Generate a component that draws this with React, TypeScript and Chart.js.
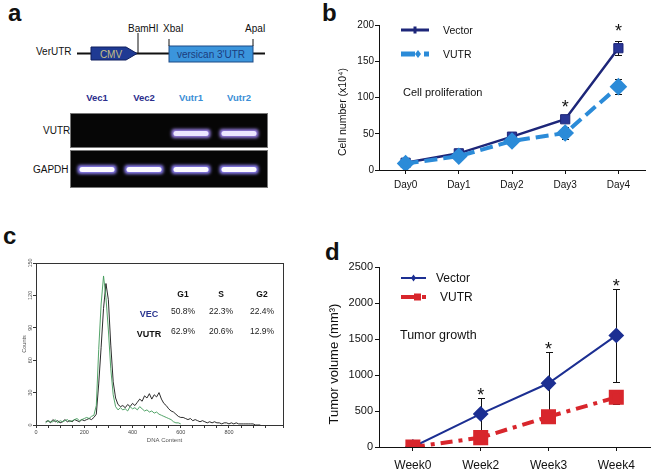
import React, { useEffect, useRef } from "react";
import { Chart, registerables } from "chart.js";

Chart.register(...registerables);

const FONT = '"Liberation Sans", Arial, Helvetica, sans-serif';

// ---------- Panel a (construct + RT-PCR gel) ----------
const laneLabels = ["Vec1", "Vec2", "Vutr1", "Vutr2"];
const vutrBandPresent = [false, false, true, true];
const gapdhBandPresent = [true, true, true, true];

// ---------- Panel b (cell proliferation) ----------
const dayLabels = ["Day0", "Day1", "Day2", "Day3", "Day4"];
const prolifVector = [10, 23, 46, 70, 168];
const prolifVectorErr = [3, 4, 4, 3, 10];
const prolifVUTR = [9, 19, 40, 51, 115];
const prolifVUTRErr = [3, 3, 3, 8, 10];
const prolifSignificant = [false, false, false, true, true];

// ---------- Panel c (cell cycle histogram) ----------
const dnaBinStart = 40;
const dnaBinWidth = 10;
const countsBlackTrace = [
  3, 4, 2, 5, 3, 4, 2, 3, 5, 3, 4, 3, 5, 4, 3, 5, 4,
  5, 6, 5, 7,
  10, 38, 72, 108, 131, 116, 74, 40, 25, 19, 17,
  18, 16, 19, 17, 20, 18, 21,
  24, 22, 27, 25, 29, 24, 28, 26, 30, 24,
  20, 18, 15, 13, 12, 10, 8, 7, 7, 6, 5, 6, 4, 5, 4, 3, 4, 3, 2, 3,
  2, 3, 2, 2, 1, 2, 2, 1, 2, 1, 2, 1, 1, 1, 1, 1, 1, 1, 0, 0, 0,
];
const countsGreenTrace = [
  2, 4, 3, 3, 5, 2, 4, 3, 4, 5, 3, 4, 5, 6, 4, 5, 6,
  7, 6, 8, 9,
  18, 70, 112, 138, 118, 88, 52, 28, 17, 14,
  16, 14, 15, 13, 17, 15, 16, 14, 17,
  15, 13, 14, 12, 13, 11, 12,
  10, 9, 8, 7, 6, 5, 3, 2, 2, 1,
];
const countTicks = [0, 30, 60, 90, 120, 150];
const phaseHeaders = ["G1", "S", "G2"];
const phaseVEC = ["50.8%", "22.3%", "22.4%"];
const phaseVUTR = ["62.9%", "20.6%", "12.9%"];

// ---------- Panel d (tumor growth) ----------
const weekLabels = ["Week0", "Week2", "Week3", "Week4"];
const tumorVector = [0, 460, 885, 1550];
const tumorVectorErr = [0, 225, 440, 650];
const tumorVUTR = [0, 130, 420, 690];
const tumorVUTRErr = [0, 0, 0, 90];
const tumorSignificant = [false, true, true, true];

const NAVY = "#1d2679";
const NAVY_MARK = "#2a3796";
const LBLUE = "#2b8bd8";
const DNAVY = "#1c2f92";
const RED = "#d8262c";

function errorBars(specs: { ds: number; err: number[]; up: boolean; down: boolean }[], cap: number) {
  return {
    id: "errorBars",
    beforeDatasetsDraw(chart: any) {
      const ctx = chart.ctx;
      const ys = chart.scales.y;
      ctx.save();
      ctx.strokeStyle = "#111";
      ctx.lineWidth = 1;
      for (const s of specs) {
        const meta = chart.getDatasetMeta(s.ds);
        const vals = chart.data.datasets[s.ds].data as number[];
        meta.data.forEach((el: any, j: number) => {
          const e = s.err[j];
          if (!e) return;
          const x = Math.round(el.x) + 0.5;
          const yc = ys.getPixelForValue(vals[j]);
          ctx.beginPath();
          if (s.up) {
            const yt = Math.round(ys.getPixelForValue(vals[j] + e)) + 0.5;
            ctx.moveTo(x, yc);
            ctx.lineTo(x, yt);
            ctx.moveTo(x - cap, yt);
            ctx.lineTo(x + cap, yt);
          }
          if (s.down) {
            const yb = Math.round(ys.getPixelForValue(vals[j] - e)) + 0.5;
            ctx.moveTo(x, yc);
            ctx.lineTo(x, yb);
            ctx.moveTo(x - cap, yb);
            ctx.lineTo(x + cap, yb);
          }
          ctx.stroke();
        });
      }
      ctx.restore();
    },
  };
}

function stars(ds: number, errs: number[], flags: boolean[], gap: number, size: number) {
  return {
    id: "stars",
    afterDatasetsDraw(chart: any) {
      const ctx = chart.ctx;
      const ys = chart.scales.y;
      const meta = chart.getDatasetMeta(ds);
      const vals = chart.data.datasets[ds].data as number[];
      ctx.save();
      ctx.fillStyle = "#111";
      ctx.font = `${size}px ${FONT}`;
      ctx.textAlign = "center";
      ctx.textBaseline = "alphabetic";
      flags.forEach((f, j) => {
        if (!f) return;
        const x = meta.data[j].x;
        const cy = ys.getPixelForValue(vals[j] + errs[j]) - gap;
        ctx.fillText("*", x, cy + size * 0.57);
      });
      ctx.restore();
    },
  };
}

function yTitle(text: string, x: number, cy: number, size: number) {
  return {
    id: "yTitle",
    afterDraw(chart: any) {
      const ctx = chart.ctx;
      ctx.save();
      ctx.translate(x, cy);
      ctx.rotate(-Math.PI / 2);
      ctx.fillStyle = "#111";
      ctx.font = `${size}px ${FONT}`;
      ctx.textAlign = "center";
      ctx.textBaseline = "middle";
      ctx.fillText(text, 0, 0);
      ctx.restore();
    },
  };
}

function axisStyle(fontSize: number, pad: number) {
  return {
    grid: { display: true, drawOnChartArea: false, drawTicks: true, tickLength: 4, color: "#111", offset: false },
    border: { display: true, color: "#111", width: 1 },
    ticks: {
      color: "#111",
      font: { size: fontSize, family: FONT },
      padding: pad,
      maxRotation: 0,
      autoSkip: false,
    },
  };
}

const plainNumber = (v: any) => String(v);

function cellConfig(): any {
  const xs = axisStyle(10, 5);
  const ysty = axisStyle(10, 1);
  return {
    type: "line",
    data: {
      labels: dayLabels,
      datasets: [
        {
          label: "Vector",
          data: prolifVector,
          borderColor: NAVY,
          borderWidth: 2.5,
          pointStyle: "rect",
          pointRadius: 6.5,
          pointBackgroundColor: NAVY_MARK,
          pointBorderColor: NAVY,
          pointBorderWidth: 1,
          order: 2,
        },
        {
          label: "VUTR",
          data: prolifVUTR,
          borderColor: LBLUE,
          borderWidth: 4,
          borderDash: [13, 6],
          pointStyle: "rectRot",
          pointRadius: 6,
          pointBackgroundColor: LBLUE,
          pointBorderColor: LBLUE,
          order: 1,
        },
      ],
    },
    options: {
      responsive: false,
      animation: false,
      events: [],
      layout: { padding: { left: 336, top: 25, right: 17, bottom: 262 } },
      plugins: { legend: { display: false }, tooltip: { enabled: false } },
      scales: {
        x: { ...xs, offset: true, afterFit: (s: any) => { s.height = 40; } },
        y: {
          ...ysty,
          min: 0,
          max: 200,
          ticks: { ...ysty.ticks, stepSize: 50, callback: plainNumber },
          afterFit: (s: any) => { s.width = 43; },
        },
      },
    },
    plugins: [
      errorBars(
        [
          { ds: 0, err: prolifVectorErr, up: true, down: true },
          { ds: 1, err: prolifVUTRErr, up: true, down: true },
        ],
        3.5
      ),
      stars(0, prolifVectorErr, prolifSignificant, 14.5, 18),
      yTitle("Cell number (x10⁴)", 343, 112, 10.5),
      {
        id: "cellDecor",
        afterDraw(chart: any) {
          const ctx = chart.ctx;
          const { left, top } = chart.chartArea;
          ctx.save();
          const x0 = left + 22, x1 = left + 50;
          const y1 = top + 5;
          ctx.strokeStyle = NAVY;
          ctx.lineWidth = 3;
          ctx.beginPath();
          ctx.moveTo(x0, y1);
          ctx.lineTo(x1, y1);
          ctx.stroke();
          ctx.fillStyle = NAVY;
          ctx.fillRect((x0 + x1) / 2 - 1.5, y1 - 3.5, 3, 7);
          const y2 = top + 29;
          ctx.strokeStyle = LBLUE;
          ctx.lineWidth = 5;
          ctx.beginPath();
          ctx.moveTo(x0, y2);
          ctx.lineTo(x0 + 14, y2);
          ctx.moveTo(x1 - 5, y2);
          ctx.lineTo(x1, y2);
          ctx.stroke();
          ctx.fillStyle = LBLUE;
          ctx.beginPath();
          ctx.moveTo(x0 + 17, y2 - 4);
          ctx.lineTo(x0 + 20, y2);
          ctx.lineTo(x0 + 17, y2 + 4);
          ctx.lineTo(x0 + 14, y2);
          ctx.closePath();
          ctx.fill();
          ctx.fillStyle = "#111";
          ctx.font = `10.5px ${FONT}`;
          ctx.textAlign = "left";
          ctx.textBaseline = "middle";
          ctx.fillText("Vector", left + 64, y1 + 1);
          ctx.fillText("VUTR", left + 64, y2 + 1);
          ctx.font = `11px ${FONT}`;
          ctx.fillText("Cell proliferation", left + 24, top + 68);
          ctx.restore();
        },
      },
    ],
  };
}

function tumorConfig(): any {
  const xs = axisStyle(12, 7);
  const ysty = axisStyle(11, 2);
  return {
    type: "line",
    data: {
      labels: weekLabels,
      datasets: [
        {
          label: "Vector",
          data: tumorVector,
          borderColor: DNAVY,
          borderWidth: 2,
          pointStyle: "rectRot",
          pointRadius: 6.5,
          pointBackgroundColor: DNAVY,
          pointBorderColor: DNAVY,
          order: 2,
        },
        {
          label: "VUTR",
          data: tumorVUTR,
          borderColor: RED,
          borderWidth: 4,
          borderDash: [12, 6, 4, 6],
          pointStyle: "rect",
          pointRadius: 7.8,
          pointBackgroundColor: RED,
          pointBorderColor: RED,
          order: 1,
        },
      ],
    },
    options: {
      responsive: false,
      animation: false,
      events: [],
      layout: { padding: { left: 325, top: 267, right: 4, bottom: 0 } },
      plugins: { legend: { display: false }, tooltip: { enabled: false } },
      scales: {
        x: { ...xs, offset: true, afterFit: (s: any) => { s.height = 25; } },
        y: {
          ...ysty,
          min: 0,
          max: 2500,
          ticks: { ...ysty.ticks, stepSize: 500, callback: plainNumber },
          afterFit: (s: any) => { s.width = 54; },
        },
      },
    },
    plugins: [
      errorBars(
        [
          { ds: 0, err: tumorVectorErr, up: true, down: true },
          { ds: 1, err: tumorVUTRErr, up: false, down: true },
        ],
        3.5
      ),
      stars(0, tumorVectorErr, tumorSignificant, 7, 18),
      yTitle("Tumor volume (mm³)", 334, 364, 13),
      {
        id: "tumorDecor",
        afterDraw(chart: any) {
          const ctx = chart.ctx;
          const { left, top } = chart.chartArea;
          ctx.save();
          const x0 = left + 22, x1 = left + 47;
          const y1 = top + 11;
          ctx.strokeStyle = DNAVY;
          ctx.lineWidth = 2;
          ctx.beginPath();
          ctx.moveTo(x0, y1);
          ctx.lineTo(x1, y1);
          ctx.stroke();
          ctx.fillStyle = DNAVY;
          const mx = (x0 + x1) / 2;
          ctx.beginPath();
          ctx.moveTo(mx, y1 - 3.5);
          ctx.lineTo(mx + 2.5, y1);
          ctx.lineTo(mx, y1 + 3.5);
          ctx.lineTo(mx - 2.5, y1);
          ctx.closePath();
          ctx.fill();
          const y2 = top + 30;
          ctx.strokeStyle = RED;
          ctx.lineWidth = 4;
          ctx.beginPath();
          ctx.moveTo(x0, y2);
          ctx.lineTo(x0 + 13, y2);
          ctx.moveTo(x1 - 4, y2);
          ctx.lineTo(x1, y2);
          ctx.stroke();
          ctx.fillStyle = RED;
          ctx.fillRect(x0 + 13, y2 - 3.5, 7, 7);
          ctx.fillStyle = "#111";
          ctx.font = `12px ${FONT}`;
          ctx.textAlign = "left";
          ctx.textBaseline = "middle";
          ctx.fillText("Vector", left + 57, y1 + 1);
          ctx.fillText("VUTR", left + 61, y2 + 1);
          ctx.font = `12.5px ${FONT}`;
          ctx.fillText("Tumor growth", left + 21, top + 69);
          ctx.restore();
        },
      },
    ],
  };
}

function histConfig(): any {
  const blackPts = countsBlackTrace.map((c, i) => ({ x: dnaBinStart + i * dnaBinWidth, y: c }));
  const greenPts = countsGreenTrace.map((c, i) => ({ x: dnaBinStart + i * dnaBinWidth, y: c }));
  return {
    type: "line",
    data: {
      datasets: [
        { label: "green", data: greenPts, borderColor: "#3f9a58", borderWidth: 0.9, pointRadius: 0, order: 1 },
        { label: "black", data: blackPts, borderColor: "#141414", borderWidth: 0.9, pointRadius: 0, order: 2 },
      ],
    },
    options: {
      responsive: false,
      animation: false,
      events: [],
      layout: { padding: { left: 0, top: 263, right: 379, bottom: 27 } },
      plugins: { legend: { display: false }, tooltip: { enabled: false } },
      scales: {
        x: {
          type: "linear",
          min: 0,
          max: 1024,
          grid: { display: true, drawOnChartArea: false, drawTicks: true, tickLength: 3, color: "#333" },
          border: { display: true, color: "#333", width: 1 },
          ticks: {
            stepSize: 50,
            autoSkip: false,
            maxRotation: 0,
            color: "#444",
            padding: 1,
            font: { size: 5.5, family: FONT },
            callback: (v: number) => (v % 200 === 0 ? String(v) : ""),
          },
          afterFit: (s: any) => { s.height = 20; },
        },
        y: {
          min: 0,
          max: 150,
          grid: { display: true, drawOnChartArea: false, drawTicks: true, tickLength: 3, color: "#333" },
          border: { display: true, color: "#333", width: 1 },
          ticks: { stepSize: 30, display: false },
          afterFit: (s: any) => { s.width = 36; },
        },
      },
    },
    plugins: [
      {
        id: "histDecor",
        afterDraw(chart: any) {
          const ctx = chart.ctx;
          const { left, top, right, bottom } = chart.chartArea;
          const ys = chart.scales.y;
          ctx.save();
          ctx.strokeStyle = "#333";
          ctx.lineWidth = 1;
          ctx.strokeRect(Math.round(left) + 0.5, Math.round(top) + 0.5, Math.round(right - left), Math.round(bottom - top));
          ctx.fillStyle = "#555";
          ctx.font = `5.5px ${FONT}`;
          ctx.textAlign = "center";
          ctx.textBaseline = "middle";
          countTicks.forEach((v) => {
            ctx.save();
            ctx.translate(left - 6, ys.getPixelForValue(v));
            ctx.rotate(-Math.PI / 2);
            ctx.fillText(String(v), 0, 0);
            ctx.restore();
          });
          ctx.save();
          ctx.translate(left - 12, (top + bottom) / 2);
          ctx.rotate(-Math.PI / 2);
          ctx.fillText("Counts", 0, 0);
          ctx.restore();
          ctx.font = `6px ${FONT}`;
          ctx.fillText("DNA Content", (left + right) / 2 + 5, bottom + 15);
          const cols = [183, 221, 262];
          ctx.fillStyle = "#111";
          ctx.font = `bold 8.5px ${FONT}`;
          phaseHeaders.forEach((h, i) => ctx.fillText(h, cols[i], 295));
          ctx.fillStyle = "#2a3590";
          ctx.font = `bold 9px ${FONT}`;
          ctx.fillText("VEC", 149, 315);
          ctx.fillStyle = "#111";
          ctx.fillText("VUTR", 149, 335);
          ctx.font = `8.5px ${FONT}`;
          ctx.fillStyle = "#222";
          phaseVEC.forEach((t, i) => ctx.fillText(t, cols[i], 312));
          phaseVUTR.forEach((t, i) => ctx.fillText(t, cols[i], 332));
          ctx.restore();
        },
      },
    ],
  };
}

const laneCenters = [97, 144, 191, 239];

function Band({ cx, cy, w, h, bright }: { cx: number; cy: number; w: number; h: number; bright: boolean }) {
  return (
    <g>
      <rect x={cx - w / 2 - 1} y={cy - h / 2 - 1} width={w + 2} height={h + 2} rx={3} fill={bright ? "#8e80f5" : "#9a7fe6"} filter="url(#glow)" />
      <rect x={cx - w / 2 + 1} y={cy - h / 2 + 1} width={w - 2} height={h - 2} rx={2.5} fill={bright ? "#fbfaff" : "#ece6ff"} filter="url(#soft)" />
    </g>
  );
}

export default function App() {
  const bRef = useRef<HTMLCanvasElement>(null);
  const cRef = useRef<HTMLCanvasElement>(null);
  const dRef = useRef<HTMLCanvasElement>(null);

  useEffect(() => {
    const charts = [
      new Chart(bRef.current as HTMLCanvasElement, cellConfig()),
      new Chart(cRef.current as HTMLCanvasElement, histConfig()),
      new Chart(dRef.current as HTMLCanvasElement, tumorConfig()),
    ];
    return () => charts.forEach((c) => c.destroy());
  }, []);

  const canvasStyle: React.CSSProperties = { position: "absolute", left: 0, top: 0, width: 662, height: 472 };

  return (
    <div style={{ position: "absolute", left: 0, top: 0, width: 662, height: 472, background: "#fff", overflow: "hidden", fontFamily: FONT }}>
      <svg width={662} height={472} style={{ position: "absolute", left: 0, top: 0 }} fontFamily={FONT}>
        <defs>
          <filter id="glow" x="-30%" y="-150%" width="160%" height="400%">
            <feGaussianBlur stdDeviation="1.6" />
          </filter>
          <filter id="soft" x="-20%" y="-100%" width="140%" height="300%">
            <feGaussianBlur stdDeviation="0.6" />
          </filter>
        </defs>
        <text x={8} y={21} fontSize={24} fontWeight="bold" fill="#111">a</text>
        <text x={322} y={21} fontSize={24} fontWeight="bold" fill="#111">b</text>
        <text x={3} y={244} fontSize={24} fontWeight="bold" fill="#111">c</text>
        <text x={325} y={260} fontSize={24} fontWeight="bold" fill="#111">d</text>

        <text x={36} y={55} fontSize={10} fill="#111">VerUTR</text>
        <line x1={77} y1={53.5} x2={265} y2={53.5} stroke="#111" strokeWidth={2} />
        <polygon points="91,47 126,47 137,53.5 126,60 91,60" fill="#1f3a93" stroke="#0f1f5e" strokeWidth={1} />
        <text x={111} y={57.5} fontSize={10} fill="#c4bf86" textAnchor="middle">CMV</text>
        <line x1={138} y1={33} x2={138} y2={53} stroke="#111" strokeWidth={1} />
        <text x={128} y={32} fontSize={10} fill="#111">BamHI</text>
        <rect x={169} y={46} width={84} height={16} fill="#3b95dc" stroke="#1c4a86" strokeWidth={1} />
        <line x1={169} y1={39} x2={169} y2={46} stroke="#111" strokeWidth={1} />
        <line x1={253} y1={39} x2={253} y2={46} stroke="#111" strokeWidth={1} />
        <text x={163} y={32} fontSize={10} fill="#111">XbaI</text>
        <text x={245} y={32} fontSize={10} fill="#111">ApaI</text>
        <text x={211} y={58} fontSize={10} fill="#1b3c7c" textAnchor="middle">versican 3'UTR</text>

        {laneLabels.map((l, i) => (
          <text key={l} x={laneCenters[i]} y={101} fontSize={9.5} fontWeight="bold" textAnchor="middle" fill={i < 2 ? "#2b2d8c" : "#3a8ed6"}>
            {l}
          </text>
        ))}
        <text x={43} y={134} fontSize={10} fill="#111">VUTR</text>
        <text x={33} y={173} fontSize={10} fill="#111">GAPDH</text>
        <rect x={70.5} y={113.5} width={197} height={34} fill="#060606" stroke="#777" strokeWidth={1} />
        <rect x={70.5} y={150.5} width={197} height={37} fill="#060606" stroke="#777" strokeWidth={1} />
        {laneCenters.map((cx, i) =>
          vutrBandPresent[i] ? <Band key={"v" + i} cx={cx} cy={133.5} w={37} h={7} bright={false} /> : null
        )}
        {laneCenters.map((cx, i) =>
          gapdhBandPresent[i] ? <Band key={"g" + i} cx={cx} cy={169.5} w={37} h={7} bright={true} /> : null
        )}
      </svg>
      <canvas ref={bRef} width={662} height={472} style={canvasStyle} />
      <canvas ref={cRef} width={662} height={472} style={canvasStyle} />
      <canvas ref={dRef} width={662} height={472} style={canvasStyle} />
    </div>
  );
}
